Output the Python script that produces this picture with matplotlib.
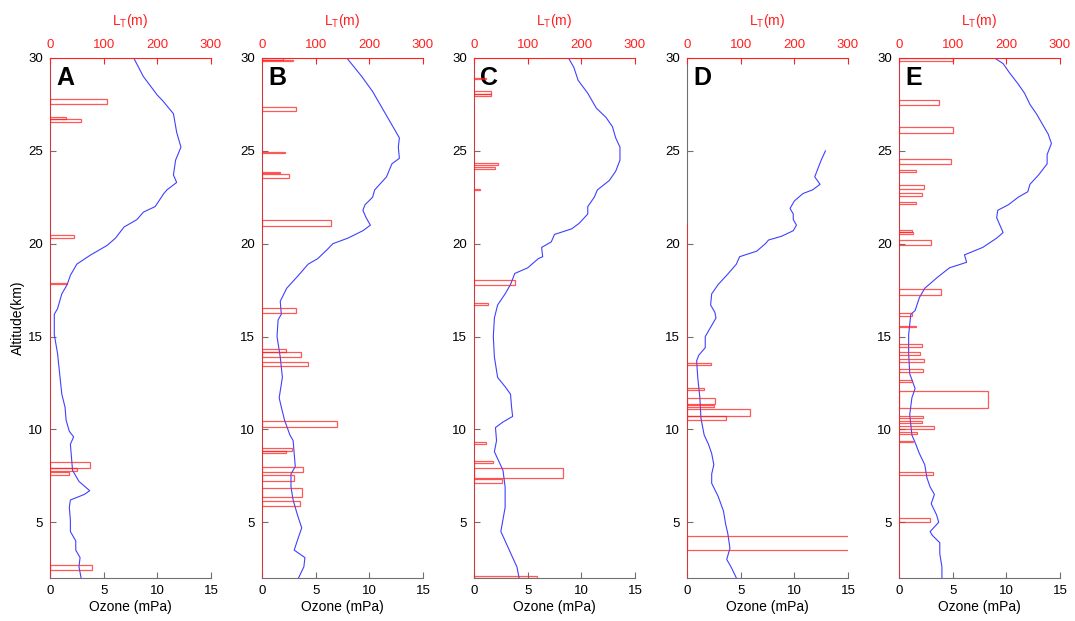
import matplotlib.pyplot as plt

plt.rcParams['font.family'] = ['Liberation Sans', 'DejaVu Sans']

# ---- ozone profiles (altitude km, ozone mPa) ----
a_alt = [30, 29, 28, 27.7, 27, 26, 25.2, 24.5, 23.7, 23.3, 22.9, 22.7, 22.0, 21.7, 21.3, 20.9, 20.3,
         19.9, 19.4, 18.9, 18.3, 17.8, 17.3, 16.5, 16.2, 15.1, 14.1, 13.0, 11.9, 11.2, 10.5, 9.9, 9.6,
         9.2, 8.5, 7.8, 7.2, 6.7, 6.5, 6.2, 5.8, 5.1, 4.5, 4.0, 3.5, 3.1, 2.6, 2.0]
a_oz = [7.8, 8.7, 10.0, 10.5, 11.5, 11.8, 12.2, 11.7, 11.5, 11.8, 10.9, 10.6, 9.8, 8.7, 8.1, 6.9, 6.1,
        5.3, 3.8, 2.5, 1.9, 1.6, 1.1, 0.7, 0.4, 0.4, 0.7, 0.9, 1.1, 1.4, 1.5, 1.8, 2.2,
        1.9, 2.0, 2.1, 2.7, 3.7, 3.2, 1.9, 1.8, 1.9, 1.9, 2.4, 2.4, 2.8, 2.7, 2.9]

b_alt = [30, 29.0, 28.2, 27.5, 26.8, 26.3, 25.7, 25.2, 24.6, 24.3, 23.6, 22.9, 22.5, 22.1, 21.8, 21.4,
         21.0, 20.7, 20.3, 20.0, 19.7, 19.2, 18.9, 18.3, 17.6, 16.9, 16.2, 15.9, 15.0, 13.9, 12.8, 11.7,
         11.2, 10.5, 9.7, 9.4, 8.7, 8.0, 7.6, 6.9, 6.2, 5.4, 4.7, 4.2, 3.5, 3.1, 2.6, 2.0]
b_oz = [7.9, 9.3, 10.3, 11.0, 11.7, 12.2, 12.8, 12.7, 12.8, 12.1, 11.6, 10.5, 10.3, 9.6, 9.4, 9.7,
        10.1, 9.4, 8.0, 6.6, 6.1, 5.2, 4.3, 3.4, 2.3, 1.7, 1.8, 1.5, 1.4, 1.7, 1.9, 1.6,
        1.8, 2.1, 2.6, 2.9, 3.0, 3.1, 2.7, 2.7, 2.9, 3.3, 3.7, 3.4, 3.0, 4.0, 3.9, 3.4]

c_alt = [30, 29.5, 28.8, 28.1, 27.3, 26.8, 26.3, 25.7, 25.2, 24.5, 23.9, 23.4, 22.9, 22.5, 22.0, 21.6,
         21.1, 20.8, 20.5, 20.1, 19.8, 19.3, 19.2, 18.7, 18.4, 17.8, 17.3, 16.7, 16.0, 15.0, 13.9,
         12.8, 12.3, 11.9, 11.2, 10.7, 10.4, 10.1, 9.4, 8.8, 8.3, 7.8, 6.9, 5.8, 4.5, 4.0, 3.1, 2.6, 2.0]
c_oz = [8.8, 9.3, 9.7, 10.6, 11.4, 12.3, 12.9, 13.2, 13.6, 13.6, 13.2, 12.6, 11.5, 11.2, 10.6, 10.6,
        9.8, 9.1, 7.5, 7.2, 6.3, 6.4, 6.0, 5.0, 3.8, 3.4, 2.9, 2.2, 1.9, 1.8, 1.9,
        2.2, 2.9, 3.4, 3.5, 3.6, 2.7, 2.0, 2.1, 1.9, 2.3, 2.7, 2.9, 2.9, 2.5, 2.9, 3.6, 4.0, 4.2]

d_alt = [25.0, 24.5, 23.9, 23.6, 23.2, 22.9, 22.7, 22.3, 21.9, 21.6, 21.3, 21.0, 20.7, 20.4, 20.2,
         20.0, 19.6, 19.3, 18.9, 18.3, 17.8, 17.3, 16.7, 16.3, 16.0, 15.5, 15.0, 14.4, 14.0, 13.7,
         12.8, 11.7, 10.6, 9.7, 9.2, 8.7, 8.1, 7.6, 7.1, 6.4, 5.6, 4.9, 4.4, 3.6, 3.2, 3.0, 2.6, 2.0]
d_oz = [12.9, 12.5, 12.1, 11.9, 12.4, 11.7, 10.8, 10.0, 9.6, 9.9, 9.9, 10.2, 9.9, 8.8, 7.6,
        7.3, 6.5, 4.9, 4.6, 3.7, 2.9, 2.3, 2.2, 2.6, 2.7, 2.2, 1.7, 1.7, 1.1, 0.9,
        1.0, 1.2, 1.3, 1.6, 2.0, 2.3, 2.5, 2.3, 2.3, 2.9, 3.4, 3.6, 3.8, 4.0, 3.8, 3.7, 4.1, 4.6]

e_alt = [30, 29.7, 29.2, 28.6, 28.1, 27.5, 27.0, 26.4, 25.9, 25.4, 24.8, 24.3, 23.7, 23.2, 22.8, 22.5,
         22.1, 21.8, 21.4, 21.0, 20.6, 20.3, 19.8, 19.4, 19.0, 18.7, 18.2, 17.6, 17.1, 16.4, 16.2,
         15.1, 14.1, 13.0, 12.2, 11.7, 10.8, 9.7, 9.3, 8.7, 8.1, 7.4, 6.9, 6.5, 6.0, 5.4, 5.0, 4.5,
         4.3, 3.9, 3.3, 2.6, 2.0]
e_oz = [8.9, 9.7, 10.3, 11.1, 11.7, 12.2, 12.8, 13.4, 13.9, 14.2, 13.8, 13.8, 13.0, 12.2, 12.0, 11.1,
        10.2, 9.2, 9.1, 9.4, 9.7, 9.1, 7.8, 6.1, 6.3, 4.7, 3.6, 2.4, 1.9, 1.5, 1.1,
        0.9, 0.9, 1.0, 1.5, 1.2, 1.0, 1.2, 1.5, 1.9, 2.4, 2.6, 2.9, 3.3, 3.0, 3.5, 3.7, 2.9,
        3.1, 3.8, 3.8, 4.0, 4.0]

# ---- Thorpe length layers (bottom km, top km, L_T m) ----
a_lo = [27.54, 26.69, 26.55, 20.32, 17.81, 7.95, 7.77, 7.55, 2.45]
a_hi = [27.77, 26.80, 26.69, 20.45, 17.88, 8.22, 7.90, 7.72, 2.68]
a_lt = [107, 30, 58, 45, 32, 74, 50, 35, 79]

b_lo = [29.90, 29.82, 27.16, 24.86, 23.80, 23.56, 20.95, 16.26, 14.19, 13.88, 13.40, 10.14, 8.85, 8.71,
        7.73, 7.23, 6.37, 5.88]
b_hi = [30.00, 29.90, 27.34, 24.96, 23.88, 23.74, 21.26, 16.53, 14.32, 14.15, 13.65, 10.47, 8.99, 8.85,
        7.99, 7.55, 6.82, 6.15]
b_lt = [40, 58, 64, 42, 33, 50, 129, 64, 44, 73, 86, 140, 55, 45, 76, 60, 75, 71]

c_lo = [28.85, 28.06, 27.95, 24.24, 24.03, 22.90, 17.77, 16.69, 9.24, 8.17, 7.41, 7.10, 2.00]
c_hi = [28.92, 28.20, 28.06, 24.37, 24.15, 22.97, 18.02, 16.82, 9.32, 8.31, 7.91, 7.32, 2.09]
c_lt = [23, 32, 31, 45, 40, 12, 77, 26, 23, 35, 166, 52, 117]

d_lo = [13.47, 12.12, 11.37, 11.19, 10.74, 10.52, 3.49]
d_hi = [13.58, 12.23, 11.67, 11.31, 11.08, 10.74, 4.26]
d_lt = [45, 31, 53, 51, 118, 73, 450]

e_lo = [29.86, 27.46, 25.95, 24.28, 23.88, 22.93, 22.57, 22.16, 20.63, 20.54, 19.91, 17.23, 16.13,
        15.50, 14.46, 14.03, 13.62, 13.08, 12.57, 11.15, 10.61, 10.32, 10.04, 9.75, 9.30, 7.55, 5.04]
e_hi = [30.00, 27.73, 26.31, 24.55, 23.97, 23.15, 22.72, 22.25, 20.72, 20.63, 20.18, 17.54, 16.26,
        15.59, 14.60, 14.15, 13.79, 13.26, 12.68, 12.09, 10.74, 10.47, 10.20, 9.87, 9.39, 7.73, 5.22]
e_lt = [101, 74, 101, 96, 32, 46, 43, 32, 25, 26, 60, 79, 24, 31, 42, 39, 46, 44, 24, 166, 45, 42, 65,
        34, 26, 63, 57]

# top of the measured L_T profile for each panel
lt_top = [30, 30, 30, 21.0, 30]

panels = ['A', 'B', 'C', 'D', 'E']
ozone = [(a_alt, a_oz), (b_alt, b_oz), (c_alt, c_oz), (d_alt, d_oz), (e_alt, e_oz)]
layers = [(a_lo, a_hi, a_lt), (b_lo, b_hi, b_lt), (c_lo, c_hi, c_lt), (d_lo, d_hi, d_lt), (e_lo, e_hi, e_lt)]

fig = plt.figure(figsize=(10.75, 6.21), dpi=100)
lefts = [50, 262, 474, 687, 899]
W, H = 1075, 621
red = '#ff2020'
grey = '#707070'

for i, name in enumerate(panels):
    ax = fig.add_axes([lefts[i] / W, 1 - 578 / H, 161 / W, 520 / H])
    alt, oz = ozone[i]
    ax.plot(oz, alt, color='#4040ff', lw=0.8, zorder=3)
    ax.set_xlim(0, 15)
    ax.set_ylim(2, 30)
    ax.set_xticks([0, 5, 10, 15])
    ax.set_yticks([5, 10, 15, 20, 25, 30])
    ax.tick_params(direction='in', length=4, color=grey, labelsize=9.5, pad=5)
    ax.spines['right'].set_visible(False)
    ax.spines['top'].set_visible(False)
    ax.spines['bottom'].set_color(grey)
    ax.spines['left'].set_color(grey)
    ax.set_xlabel('Ozone (mPa)', fontsize=10, labelpad=2)
    if i == 0:
        ax.set_ylabel('Altitude(km)', fontsize=10, labelpad=2)
    ax.text(0.04, 0.985, name, transform=ax.transAxes, fontsize=18, fontweight='bold',
            va='top', ha='left')

    ax2 = ax.twiny()
    lo, hi, lt = layers[i]
    heights = [h - l for l, h in zip(lo, hi)]
    ax2.barh(lo, lt, height=heights, left=0, align='edge', fill=False,
             edgecolor=red, linewidth=0.9, alpha=0.75)
    ax2.plot([0, 0], [2, lt_top[i]], color=red, lw=1.2, alpha=0.85)
    ax2.set_xlim(0, 300)
    ax2.set_ylim(2, 30)
    ax2.set_xticks([0, 100, 200, 300])
    ax2.tick_params(direction='in', length=4, color=red, labelcolor=red, labelsize=9.5, pad=5)
    for s in ['left', 'right', 'bottom']:
        ax2.spines[s].set_visible(False)
    ax2.spines['top'].set_color(red)
    ax2.set_xlabel('L$_\\mathregular{T}$(m)', color=red, fontsize=10, labelpad=10)

plt.savefig('out.png', dpi=100)
